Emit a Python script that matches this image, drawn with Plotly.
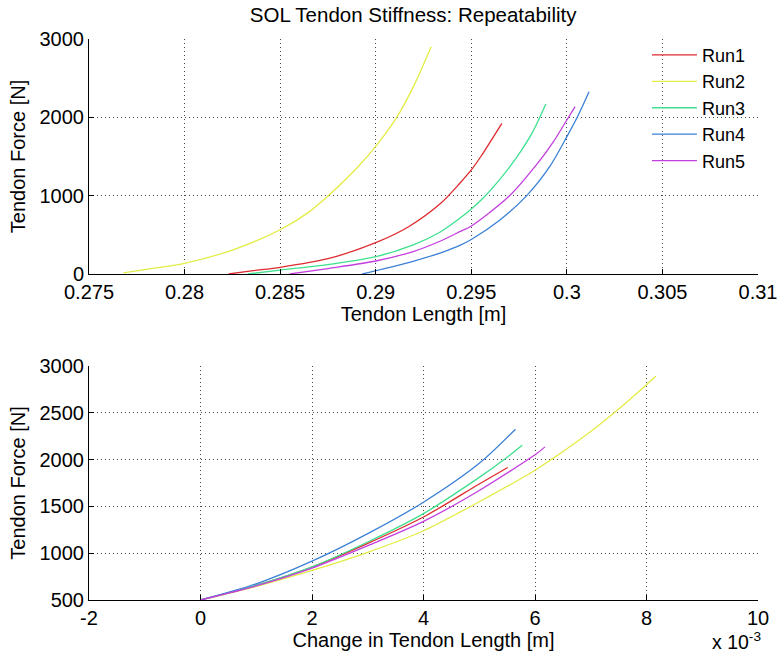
import plotly.graph_objects as go
from plotly.subplots import make_subplots

runs = ["Run1", "Run2", "Run3", "Run4", "Run5"]
colors = ["#de2a2e", "#e3ec45", "#3fe08f", "#3b80d6", "#c43fdf"]

# top panel: tendon length [m] vs tendon force [N]
len_run1 = [0.2823, 0.2835, 0.285, 0.2875, 0.29, 0.2917, 0.2934, 0.2944, 0.295, 0.2955, 0.2966]
frc_run1 = [0, 40, 85, 195, 400, 600, 902, 1158, 1328, 1500, 1924]
len_run2 = [0.2768, 0.278, 0.28, 0.2825, 0.285, 0.2865, 0.2875, 0.289, 0.29, 0.2911, 0.292, 0.2929]
frc_run2 = [15, 60, 137, 306, 565, 790, 995, 1350, 1630, 2000, 2405, 2900]
len_run3 = [0.2833, 0.285, 0.2875, 0.29, 0.292, 0.2934, 0.2944, 0.295, 0.2957, 0.2966, 0.2974, 0.2982, 0.2989]
frc_run3 = [0, 50, 120, 221, 375, 540, 711, 830, 990, 1240, 1498, 1808, 2170]
len_run4 = [0.2893, 0.2904, 0.292, 0.2934, 0.2944, 0.295, 0.2965, 0.2979, 0.2991, 0.3, 0.3006, 0.30116]
frc_run4 = [0, 64, 165, 270, 365, 440, 689, 1000, 1370, 1753, 2030, 2327]
len_run5 = [0.2855, 0.2875, 0.29, 0.292, 0.2933, 0.2944, 0.295, 0.297, 0.2986, 0.2993, 0.3, 0.30043]
frc_run5 = [0, 70, 166, 290, 412, 540, 613, 1000, 1455, 1690, 1966, 2136]

# bottom panel: change in tendon length [x 10^-3 m] vs tendon force [N]
dlen_run1 = [0, 1, 2, 3, 4, 5, 5.51]
dfrc_run1 = [500, 655, 851, 1105, 1387, 1740, 1915]
dlen_run2 = [0, 1, 2, 3, 4, 5, 6, 7, 7.5, 8, 8.17]
dfrc_run2 = [500, 645, 816, 1010, 1240, 1550, 1887, 2300, 2540, 2800, 2893]
dlen_run3 = [0, 1, 2, 3, 4, 5, 5.43, 5.77]
dfrc_run3 = [500, 658, 855, 1120, 1423, 1810, 1993, 2154]
dlen_run4 = [0, 1, 2, 3, 4, 5, 5.65]
dfrc_run4 = [500, 673, 915, 1209, 1545, 1960, 2325]
dlen_run5 = [0, 1, 2, 3, 4, 5, 6.02, 6.18]
dfrc_run5 = [500, 650, 840, 1080, 1340, 1670, 2060, 2136]

top_xticks = [0.275, 0.28, 0.285, 0.29, 0.295, 0.3, 0.305, 0.31]
top_xlabels = ["0.275", "0.28", "0.285", "0.29", "0.295", "0.3", "0.305", "0.31"]
top_yticks = [0, 1000, 2000, 3000]
bot_xticks = [-2, 0, 2, 4, 6, 8, 10]
bot_xlabels = ["-2", "0", "2", "4", "6", "8", "10"]
bot_yticks = [500, 1000, 1500, 2000, 2500, 3000]

top_len = [len_run1, len_run2, len_run3, len_run4, len_run5]
top_frc = [frc_run1, frc_run2, frc_run3, frc_run4, frc_run5]
bot_len = [dlen_run1, dlen_run2, dlen_run3, dlen_run4, dlen_run5]
bot_frc = [dfrc_run1, dfrc_run2, dfrc_run3, dfrc_run4, dfrc_run5]

FONT = "Liberation Sans, Arial, sans-serif"

fig = make_subplots(rows=2, cols=1)

for i, name in enumerate(runs):
    fig.add_trace(go.Scatter(
        x=top_len[i], y=top_frc[i], mode='lines', name=name,
        line=dict(color=colors[i], width=1.3, shape='spline', smoothing=0.8),
    ), row=1, col=1)
for i, name in enumerate(runs):
    fig.add_trace(go.Scatter(
        x=bot_len[i], y=bot_frc[i], mode='lines', name=name, showlegend=False,
        line=dict(color=colors[i], width=1.3, shape='spline', smoothing=0.8),
    ), row=2, col=1)

axis_style = dict(
    showline=True, linecolor='black', linewidth=1, mirror=False,
    ticks='inside', ticklen=5, tickcolor='black',
    showgrid=True, gridcolor='#444', gridwidth=1, griddash='1px,3px',
    zeroline=False, automargin=False,
    tickfont=dict(size=20, color='black'),
    title_font=dict(size=20, color='black'),
)

fig.update_xaxes(axis_style)
fig.update_yaxes(axis_style)

fig.update_xaxes(range=[0.275, 0.31], tickvals=top_xticks, ticktext=top_xlabels,
                 title_text='Tendon Length [m]', title_standoff=0, row=1, col=1)
fig.update_yaxes(range=[0, 3000], tickvals=top_yticks, ticktext=[str(v) for v in top_yticks],
                 title_text='Tendon Force [N]', title_standoff=8,
                 domain=[0.5811, 1.0], row=1, col=1)
fig.update_xaxes(range=[-2, 10], tickvals=bot_xticks, ticktext=bot_xlabels,
                 title_text='Change in Tendon Length [m]', title_standoff=1, row=2, col=1)
fig.update_yaxes(range=[500, 3000], tickvals=bot_yticks, ticktext=[str(v) for v in bot_yticks],
                 title_text='Tendon Force [N]', title_standoff=8,
                 domain=[0.0, 0.4171], row=2, col=1)

fig.add_annotation(
    text="x 10<sup>-3</sup>", xref='paper', yref='paper', x=1.0075, y=-0.073,
    xanchor='right', yanchor='middle', showarrow=False,
    font=dict(size=19.5, color='black', family=FONT),
)

fig.update_layout(
    width=778, height=657,
    margin=dict(l=89, r=20, t=39, b=57),
    paper_bgcolor='white', plot_bgcolor='white',
    font=dict(family=FONT, size=20, color='black'),
    title=dict(text='SOL Tendon Stiffness: Repeatability', x=0.531, xanchor='center',
               y=0.977, yanchor='middle', yref='container',
               font=dict(size=20.5, color='black')),
    legend=dict(x=0.834, y=1.004, xanchor='left', yanchor='top',
                bgcolor='rgba(0,0,0,0)', borderwidth=0,
                font=dict(size=18, color='black'), itemwidth=45),
)

# drop the browser's default body margin so the figure sits at the page corner
fig.write_html("out.html", config={'displayModeBar': False},
               post_script="document.body.style.margin='0';")
